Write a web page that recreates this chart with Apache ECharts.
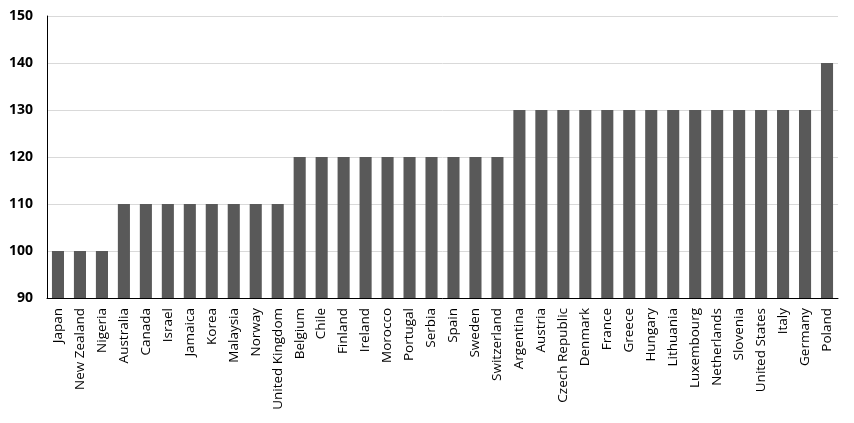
<!DOCTYPE html>
<html><head><meta charset="utf-8">
<script src="https://cdn.jsdelivr.net/npm/echarts@6/dist/echarts.min.js"></script>
<style>html,body{margin:0;padding:0;background:#fff}#c{width:854px;height:423px}</style>
</head><body><div id="c"></div>
<script>
const categories = ["Japan","New Zealand","Nigeria","Australia","Canada","Israel","Jamaica","Korea","Malaysia","Norway","United Kingdom","Belgium","Chile","Finland","Ireland","Morocco","Portugal","Serbia","Spain","Sweden","Switzerland","Argentina","Austria","Czech Republic","Denmark","France","Greece","Hungary","Lithuania","Luxembourg","Netherlands","Slovenia","United States","Italy","Germany","Poland"];
const values = [100,100,100,110,110,110,110,110,110,110,110,120,120,120,120,120,120,120,120,120,120,130,130,130,130,130,130,130,130,130,130,130,130,130,130,140];
const yMin = 90, yMax = 150, yStep = 10;
const chart = echarts.init(document.getElementById('c'), null, {renderer:'canvas'});
chart.setOption({
  animation:false,
  grid:{left:47,right:16,top:16,bottom:125,containLabel:false},
  xAxis:{type:'category',data:categories,
    axisLine:{lineStyle:{color:'#000',width:1}},
    axisTick:{show:false},
    axisLabel:{rotate:90,interval:0,color:'#000',fontSize:13.5,fontFamily:'Open Sans',margin:10}},
  yAxis:{type:'value',min:yMin,max:yMax,interval:yStep,
    axisLine:{show:true,lineStyle:{color:'#000',width:1}},
    axisTick:{show:false},
    splitLine:{lineStyle:{color:'#d9d9d9',width:1}},
    axisLabel:{color:'#000',fontSize:14,fontWeight:'bold',fontFamily:'Open Sans',margin:14}},
  series:[{type:'bar',data:values,barCategoryGap:'45%',itemStyle:{color:'#595959'}}]
});
</script></body></html>
